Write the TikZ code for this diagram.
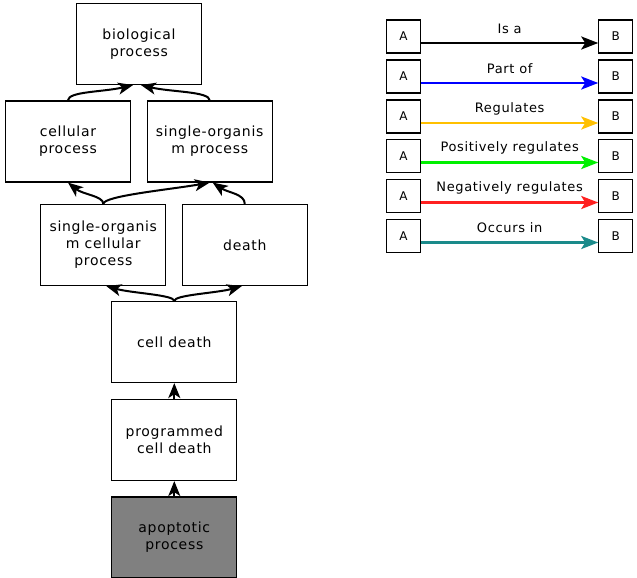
\documentclass[tikz,border=0pt]{standalone}
\usepackage{fontspec}
\usepackage{xcolor}
\usetikzlibrary{arrows.meta}

\newfontfamily\termfont{DejaVu Sans}[LetterSpace=5]

\definecolor{partofblue}{HTML}{0000FF}
\definecolor{regorange}{HTML}{FFC000}
\definecolor{posgreen}{HTML}{00F000}
\definecolor{negred}{HTML}{FF2020}
\definecolor{occteal}{HTML}{1A8A8A}
\definecolor{leafgray}{HTML}{808080}

\tikzset{
  term/.style={draw, line width=1.2pt, minimum width=125pt, minimum height=81pt,
    inner sep=0pt, align=center, font=\termfont\fontsize{14}{17}\selectfont},
  isa/.style={line width=2pt, -{Stealth[length=15pt,width=12pt,inset=4pt]}},
  keybox/.style={draw, line width=1.1pt, minimum width=34pt, minimum height=33pt,
    inner sep=0pt, font=\termfont\fontsize{12}{14}\selectfont},
  keyedge/.style={line width=2.6pt, -{Stealth[length=17pt,width=13pt,inset=4pt]}},
  keylabel/.style={inner sep=0pt, font=\termfont\fontsize{13}{15}\selectfont}
}

\begin{document}
\begin{tikzpicture}[x=1pt,y=-1pt]
  \useasboundingbox (0,0) rectangle (637,578);

  % ontology terms
  \node[term] (bio)   at (139,44)    {biological\\process};
  \node[term] (cellp) at (68,141.5)  {cellular\\process};
  \node[term] (sorgp) at (209.7,141.5) {single-organis\\m process};
  \node[term] (socp)  at (103.3,245) {single-organis\\m cellular\\process};
  \node[term] (death) at (244.8,245) {death};
  \node[term] (celld) at (174.3,342) {cell death};
  \node[term] (pcd)   at (174.3,440) {programmed\\cell death};
  \node[term, fill=leafgray] (apop) at (174.3,537.5) {apoptotic\\process};

  % is_a links
  \draw[isa] (cellp.north) .. controls +(0,-9) and +(-30,7) .. ([xshift=-6pt]bio.south);
  \draw[isa] (sorgp.north) .. controls +(0,-9) and +(30,7) .. ([xshift=2pt]bio.south);
  \draw[isa] (socp.north) .. controls +(0,-8) and +(15,12) .. (cellp.south);
  \draw[isa] (socp.north) .. controls +(0,-8) and +(-40,7) .. (sorgp.south);
  \draw[isa] (death.north) .. controls +(0,-10) and +(15,10) .. ([xshift=3pt]sorgp.south);
  \draw[isa] (celld.north) .. controls +(0,-6) and +(25,7) .. ([xshift=3pt]socp.south);
  \draw[isa] (celld.north) .. controls +(0,-6) and +(-25,7) .. ([xshift=-3pt]death.south);
  \draw[isa] (pcd.north) -- (celld.south);
  \draw[isa] (apop.north) -- (pcd.south);

  % legend
  \node[keybox] (a1) at (403.5,36.5) {A};
  \node[keybox] (b1) at (615.8,36.5) {B};
  \node[keybox] (a2) at (403.5,76.5) {A};
  \node[keybox] (b2) at (615.8,76.5) {B};
  \node[keybox] (a3) at (403.5,116.5) {A};
  \node[keybox] (b3) at (615.8,116.5) {B};
  \node[keybox] (a4) at (403.5,156) {A};
  \node[keybox] (b4) at (615.8,156) {B};
  \node[keybox] (a5) at (403.5,196) {A};
  \node[keybox] (b5) at (615.8,196) {B};
  \node[keybox] (a6) at (403.5,236) {A};
  \node[keybox] (b6) at (615.8,236) {B};

  \draw[keyedge, black] ([yshift=-6.5pt]a1.east) -- ([yshift=-6.5pt]b1.west)
    node[keylabel, midway, yshift=14.5pt, text=black] {Is a};
  \draw[keyedge, partofblue] ([yshift=-6.5pt]a2.east) -- ([yshift=-6.5pt]b2.west)
    node[keylabel, midway, yshift=14.5pt, text=black] {Part of};
  \draw[keyedge, regorange] ([yshift=-6.5pt]a3.east) -- ([yshift=-6.5pt]b3.west)
    node[keylabel, midway, yshift=14.5pt, text=black] {Regulates};
  \draw[keyedge, posgreen] ([yshift=-6.5pt]a4.east) -- ([yshift=-6.5pt]b4.west)
    node[keylabel, midway, yshift=14.5pt, text=black] {Positively regulates};
  \draw[keyedge, negred] ([yshift=-6.5pt]a5.east) -- ([yshift=-6.5pt]b5.west)
    node[keylabel, midway, yshift=14.5pt, text=black] {Negatively regulates};
  \draw[keyedge, occteal] ([yshift=-6.5pt]a6.east) -- ([yshift=-6.5pt]b6.west)
    node[keylabel, midway, yshift=14.5pt, text=black] {Occurs in};
\end{tikzpicture}
\end{document}
